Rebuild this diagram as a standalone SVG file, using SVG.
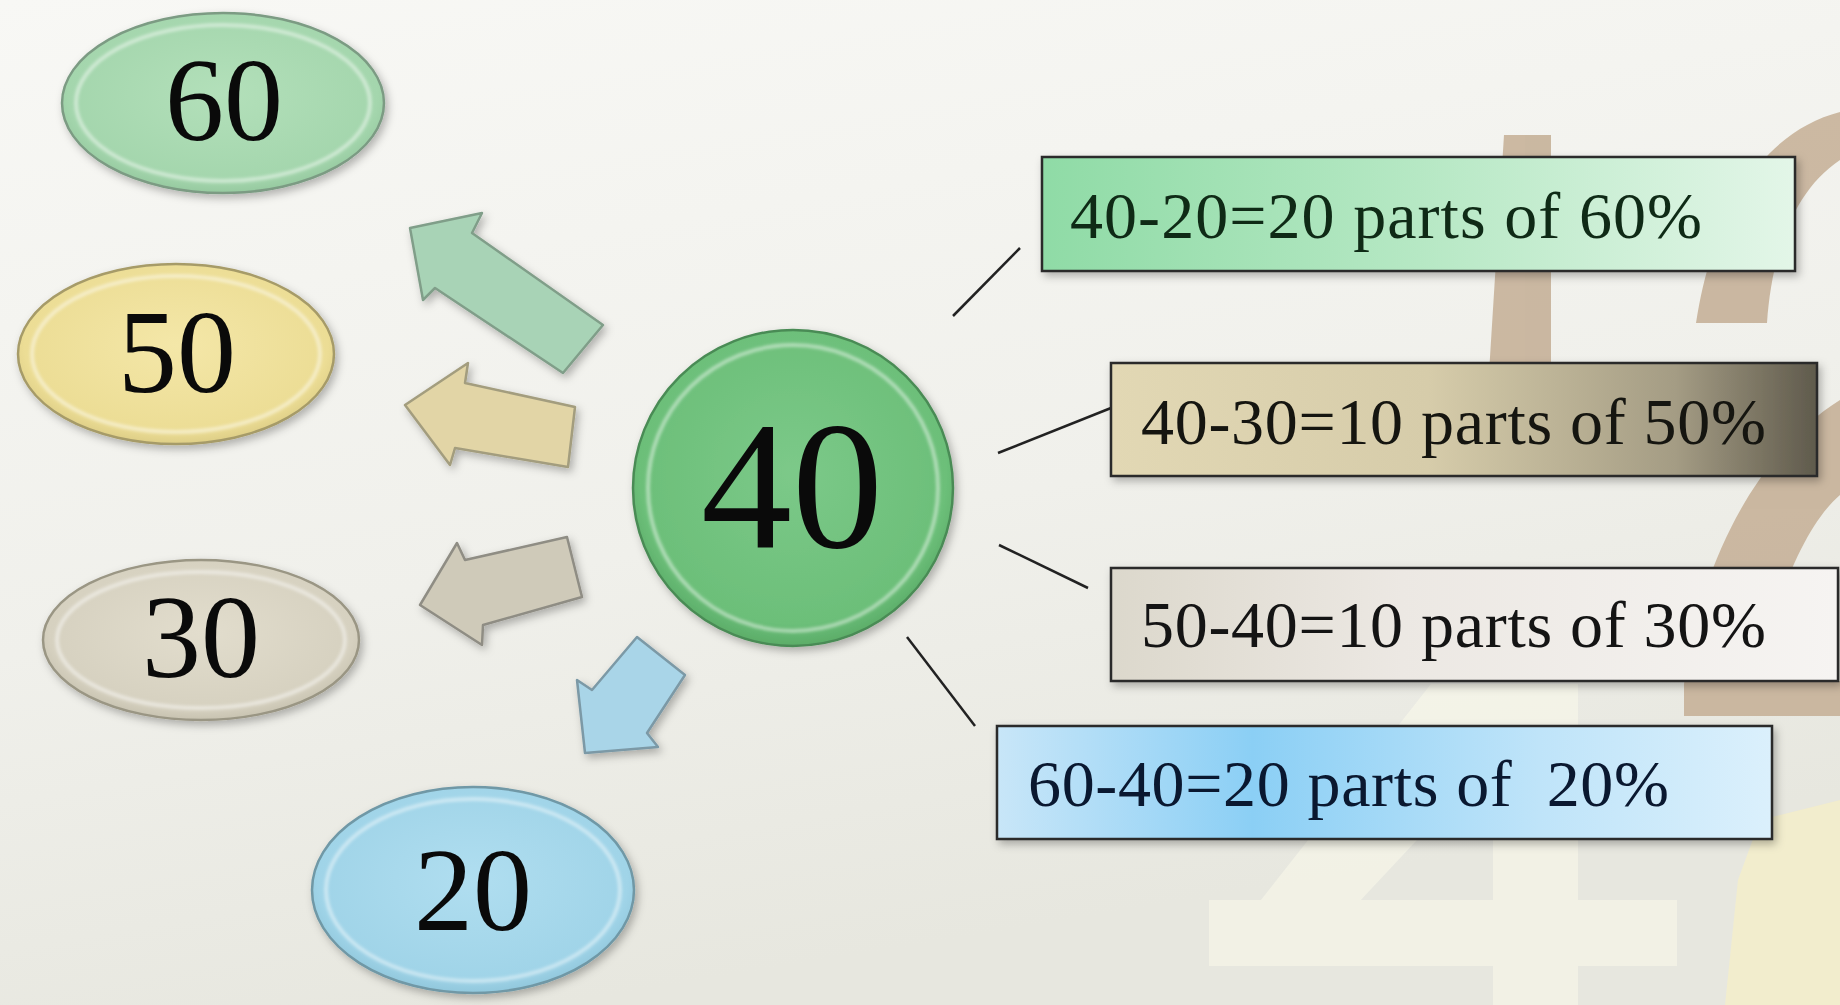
<svg xmlns="http://www.w3.org/2000/svg" width="1840" height="1005" viewBox="0 0 1840 1005">
  <defs>
    <linearGradient id="bg" x1="0" y1="0" x2="0.3" y2="1">
      <stop offset="0" stop-color="#f8f8f5"/>
      <stop offset="0.6" stop-color="#f0f0eb"/>
      <stop offset="1" stop-color="#e7e7df"/>
    </linearGradient>
    <radialGradient id="g60" cx="0.5" cy="0.45" r="0.6">
      <stop offset="0" stop-color="#b3e0ba"/>
      <stop offset="0.8" stop-color="#a4d6ad"/>
      <stop offset="1" stop-color="#8cc096"/>
    </radialGradient>
    <radialGradient id="g50" cx="0.5" cy="0.45" r="0.6">
      <stop offset="0" stop-color="#f4e7a8"/>
      <stop offset="0.8" stop-color="#ecdd95"/>
      <stop offset="1" stop-color="#d3c37c"/>
    </radialGradient>
    <radialGradient id="g30" cx="0.5" cy="0.45" r="0.6">
      <stop offset="0" stop-color="#e2ddcd"/>
      <stop offset="0.8" stop-color="#d6d1c0"/>
      <stop offset="1" stop-color="#bdb8a5"/>
    </radialGradient>
    <radialGradient id="g20" cx="0.5" cy="0.45" r="0.6">
      <stop offset="0" stop-color="#b0def0"/>
      <stop offset="0.8" stop-color="#a0d4e8"/>
      <stop offset="1" stop-color="#86bed3"/>
    </radialGradient>
    <radialGradient id="g40" cx="0.5" cy="0.45" r="0.6">
      <stop offset="0" stop-color="#7cc989"/>
      <stop offset="0.8" stop-color="#6cbf79"/>
      <stop offset="1" stop-color="#4f9f5c"/>
    </radialGradient>
    <linearGradient id="b1" x1="0" y1="0" x2="1" y2="0">
      <stop offset="0" stop-color="#8fdba6"/>
      <stop offset="0.5" stop-color="#b6e8c4"/>
      <stop offset="1" stop-color="#e3f6e8"/>
    </linearGradient>
    <linearGradient id="b2" x1="0" y1="0" x2="1" y2="0">
      <stop offset="0" stop-color="#e2d8b4"/>
      <stop offset="0.45" stop-color="#d6ccaa"/>
      <stop offset="0.8" stop-color="#a49c84"/>
      <stop offset="1" stop-color="#5f5a4c"/>
    </linearGradient>
    <linearGradient id="b3" x1="0" y1="0" x2="1" y2="0">
      <stop offset="0" stop-color="#dcd8cc"/>
      <stop offset="0.4" stop-color="#ece8e3"/>
      <stop offset="1" stop-color="#f6f4f2"/>
    </linearGradient>
    <linearGradient id="b4" x1="0" y1="0" x2="1" y2="0">
      <stop offset="0" stop-color="#c8e6f8"/>
      <stop offset="0.33" stop-color="#8bcff5"/>
      <stop offset="0.7" stop-color="#bfe4f9"/>
      <stop offset="1" stop-color="#dbf0fc"/>
    </linearGradient>
    <filter id="shadow" x="-20%" y="-20%" width="140%" height="140%">
      <feDropShadow dx="3" dy="4" stdDeviation="4" flood-color="#000" flood-opacity="0.28"/>
    </filter>
    <filter id="soft" x="-10%" y="-10%" width="120%" height="120%">
      <feGaussianBlur stdDeviation="1.5"/>
    </filter>
  </defs>
  <style>
    .num { font-family: "Liberation Serif", "Times New Roman", serif; fill: #0a0a0a; text-anchor: middle; }
    .lbl { font-family: "Liberation Serif", "Times New Roman", serif; font-size: 66px; }
    .rim { stroke-width: 2.5; filter: url(#shadow); }
    .bevel { fill: none; stroke: #ffffff; stroke-opacity: 0.45; stroke-width: 4; filter: url(#soft); }
    .box { stroke: #2a2a2a; stroke-width: 2.5; filter: url(#shadow); }
    .conn line { stroke: #222; stroke-width: 2.5; }
    .arrow { stroke-width: 2.5; stroke-linejoin: round; filter: url(#shadow); }
  </style>

  <!-- background -->
  <rect x="0" y="0" width="1840" height="1005" fill="url(#bg)"/>
  <g id="background-decor">
    <g opacity="0.85">
      <polygon points="1504,135 1551,135 1551,420 1486,420" fill="#c4ae94"/>
      <path d="M1696,323 L1767,323 C1772,250 1795,190 1840,160 L1840,112 C1770,130 1715,200 1696,323 Z" fill="#c4ae94"/>
      <path d="M1840,400 C1760,450 1700,560 1684,684 L1684,716 L1840,716 L1840,681 L1760,681 C1775,590 1810,520 1840,495 Z" fill="#c4ae94"/>
    </g>
    <g opacity="0.5">
      <polygon points="1431,684 1563,684 1299,966 1209,966" fill="#fdfcec"/>
      <rect x="1209" y="900" width="468" height="66" fill="#fdfcec"/>
      <polygon points="1493,684 1578,684 1578,1005 1493,1005" fill="#fdfcec"/>
      <polygon points="1760,820 1840,800 1840,1005 1725,1005 1738,880" fill="#fdf3bc"/>
    </g>
  </g>

  <!-- connectors -->
  <g id="connectors" class="conn">
    <polygon class="arrow" points="410,228 482,213 472,233 603,325 563,373 435,288 423,300" fill="#a8d3b6" stroke="#809e89"/>
    <polygon class="arrow" points="405,405 468,363 465,383 575,407 568,467 455,448 450,465" fill="#e2d5a6" stroke="#a39d7e"/>
    <polygon class="arrow" points="420,605 457,543 465,560 567,537 582,597 483,625 482,645" fill="#cfcab9" stroke="#8f8d84"/>
    <polygon class="arrow" points="585,753 577,680 592,690 637,637 685,675 647,733 658,747" fill="#a9d5e8" stroke="#7b99a6"/>
    <line x1="953" y1="316" x2="1020" y2="248"/>
    <line x1="998" y1="453" x2="1111" y2="408"/>
    <line x1="999" y1="545" x2="1088" y2="588"/>
    <line x1="907" y1="637" x2="975" y2="726"/>
  </g>

  <!-- outer value nodes -->
  <g id="node-60">
    <ellipse class="rim" cx="223" cy="103" rx="161" ry="90" fill="url(#g60)" stroke="#7b9b83"/>
    <ellipse class="bevel" cx="223" cy="103" rx="147" ry="78"/>
    <text class="num" x="224" y="140" font-size="118">60</text>
  </g>
  <g id="node-50">
    <ellipse class="rim" cx="176" cy="354" rx="158" ry="90" fill="url(#g50)" stroke="#a69b68"/>
    <ellipse class="bevel" cx="176" cy="354" rx="144" ry="78"/>
    <text class="num" x="177" y="392" font-size="118">50</text>
  </g>
  <g id="node-30">
    <ellipse class="rim" cx="201" cy="640" rx="158" ry="80" fill="url(#g30)" stroke="#9a9684"/>
    <ellipse class="bevel" cx="201" cy="640" rx="144" ry="68"/>
    <text class="num" x="201" y="677" font-size="118">30</text>
  </g>
  <g id="node-20">
    <ellipse class="rim" cx="473" cy="890" rx="161" ry="103" fill="url(#g20)" stroke="#6f98a6"/>
    <ellipse class="bevel" cx="473" cy="890" rx="147" ry="91"/>
    <text class="num" x="473" y="930" font-size="118">20</text>
  </g>

  <!-- centre node -->
  <g id="node-40">
    <ellipse class="rim" cx="793" cy="488" rx="160" ry="158" fill="url(#g40)" stroke="#4a8b55"/>
    <ellipse class="bevel" cx="793" cy="488" rx="145" ry="143"/>
    <text class="num" x="792" y="547" font-size="182">40</text>
  </g>

  <!-- explanation boxes -->
  <g id="box-60">
    <rect class="box" x="1042" y="157" width="753" height="114" fill="url(#b1)"/>
    <text class="lbl" x="1070" y="238" fill="#0f2a16" textLength="632">40-20=20 parts of 60%</text>
  </g>
  <g id="box-50">
    <rect class="box" x="1111" y="363" width="706" height="113" fill="url(#b2)"/>
    <text class="lbl" x="1141" y="444" fill="#151510" textLength="625">40-30=10 parts of 50%</text>
  </g>
  <g id="box-30">
    <rect class="box" x="1111" y="568" width="727" height="113" fill="url(#b3)"/>
    <text class="lbl" x="1141" y="647" fill="#141414" textLength="625">50-40=10 parts of 30%</text>
  </g>
  <g id="box-20">
    <rect class="box" x="997" y="726" width="775" height="113" fill="url(#b4)"/>
    <text class="lbl" x="1028" y="806" fill="#0a1830" xml:space="preserve" textLength="641">60-40=20 parts of  20%</text>
  </g>
</svg>
